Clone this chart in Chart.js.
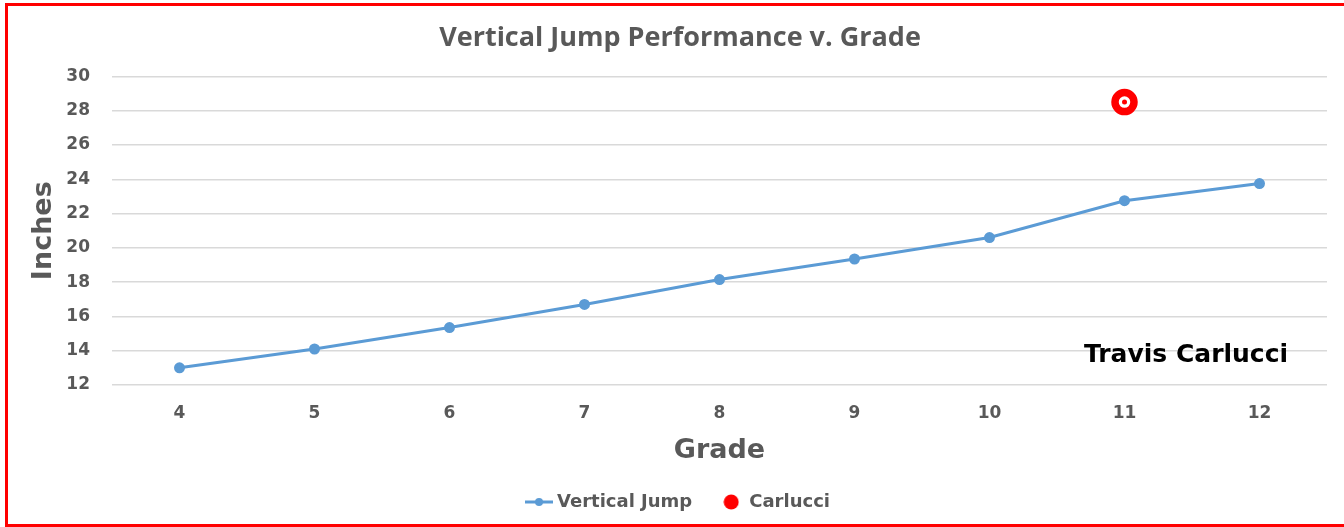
<!DOCTYPE html>
<html>
<head>
<meta charset="utf-8">
<script src="https://cdn.jsdelivr.net/npm/chart.js@4"></script>
<style>
  html, body { margin: 0; padding: 0; background: #fff; overflow: hidden; }
  #frame { position: absolute; left: 5px; top: 3px; width: 1350px; height: 518px; border: 3px solid #ff0000; }
  #wrap { position: absolute; left: 0; top: 0; width: 1344px; height: 527px; }
</style>
</head>
<body>
<div id="frame"></div>
<div id="wrap"><canvas id="jumpChart" width="1344" height="527"></canvas></div>
<script>
// Datos
const grades = ['4', '5', '6', '7', '8', '9', '10', '11', '12'];
const verticalJump = [13.0, 14.1, 15.35, 16.7, 18.15, 19.35, 20.6, 22.75, 23.75];
const carlucci = [null, null, null, null, null, null, null, 28.5, null];
const yTicks = [12, 14, 16, 18, 20, 22, 24, 26, 28, 30];

const grey = '#595959';
const blue = '#5b9bd5';
const red = '#ff0000';
const heavy = '"DejaVu Sans", Arial, sans-serif';

// icono de leyenda: línea con punto
function lineDotIcon() {
    const c = document.createElement('canvas');
    c.width = 28; c.height = 10;
    const g = c.getContext('2d');
    g.strokeStyle = blue; g.lineWidth = 3;
    g.beginPath(); g.moveTo(0, 5); g.lineTo(28, 5); g.stroke();
    g.fillStyle = blue;
    g.beginPath(); g.arc(14, 5, 4, 0, Math.PI * 2); g.fill();
    return c;
}
function dotIcon() {
    const c = document.createElement('canvas');
    c.width = 16; c.height = 16;
    const g = c.getContext('2d');
    g.fillStyle = red;
    g.beginPath(); g.arc(8, 8, 7.5, 0, Math.PI * 2); g.fill();
    return c;
}
const icons = [lineDotIcon(), dotIcon()];

// centro rojo del marcador de Carlucci y texto "Travis Carlucci"
const extras = {
    id: 'extras',
    afterDatasetsDraw(chart) {
        const ctx = chart.ctx;
        const meta = chart.getDatasetMeta(1);
        meta.data.forEach((pt, i) => {
            if (carlucci[i] == null) return;
            ctx.save();
            ctx.fillStyle = red;
            ctx.beginPath(); ctx.arc(pt.x, pt.y, 2.5, 0, Math.PI * 2); ctx.fill();
            ctx.restore();
        });
        const a = chart.chartArea;
        ctx.save();
        ctx.font = 'bold 25px ' + heavy;
        ctx.fillStyle = '#000';
        ctx.textAlign = 'center';
        ctx.textBaseline = 'middle';
        ctx.fillText('Travis Carlucci', a.right - 141, chart.scales.y.getPixelForValue(13.7));
        ctx.restore();
    }
};

const ctx = document.getElementById('jumpChart').getContext('2d');
new Chart(ctx, {
    type: 'line',
    data: {
        labels: grades,
        datasets: [{
            label: 'Vertical Jump',
            data: verticalJump,
            borderColor: blue,
            backgroundColor: blue,
            borderWidth: 3,
            pointRadius: 4,
            pointHoverRadius: 4,
            tension: 0
        }, {
            label: 'Carlucci',
            data: carlucci,
            showLine: false,
            borderColor: red,
            backgroundColor: '#fff',
            borderWidth: 7.5,
            pointRadius: 9.5,
            pointHoverRadius: 9.5
        }]
    },
    options: {
        responsive: false,
        animation: false,
        layout: { padding: { left: 28, right: 12, top: 6, bottom: 6 } },
        plugins: {
            title: {
                display: true,
                text: 'Vertical Jump Performance v. Grade',
                color: grey,
                font: { family: '"Open Sans", sans-serif', size: 27, weight: 'bold' },
                padding: { top: 16, bottom: 22 }
            },
            legend: {
                position: 'bottom',
                labels: {
                    usePointStyle: true,
                    color: grey,
                    font: { family: heavy, size: 18, weight: 'bold' },
                    padding: 30,
                    generateLabels(chart) {
                        return chart.data.datasets.map((d, i) => ({
                            text: d.label,
                            fontColor: grey,
                            pointStyle: icons[i],
                            datasetIndex: i,
                            lineWidth: 0,
                            hidden: false
                        }));
                    }
                }
            },
            tooltip: { enabled: false }
        },
        scales: {
            x: {
                offset: true,
                afterFit(scale) {
                    scale.height = 78;
                    scale.paddingLeft = 0;
                    scale.paddingRight = 0;
                },
                grid: { display: false },
                border: { display: false },
                ticks: {
                    color: grey,
                    padding: 10,
                    font: { family: heavy, size: 17, weight: 'bold' }
                },
                title: {
                    display: true,
                    text: 'Grade',
                    color: grey,
                    font: { family: heavy, size: 27, weight: 'bold' },
                    padding: { top: 10, bottom: -4 }
                }
            },
            y: {
                min: 12,
                max: 30,
                afterFit(scale) { scale.width = 84; },
                afterBuildTicks(scale) { scale.ticks = yTicks.map(v => ({ value: v })); },
                grid: { color: '#d9d9d9', lineWidth: 1.5, drawTicks: false },
                border: { display: false },
                ticks: {
                    color: grey,
                    padding: 22,
                    font: { family: heavy, size: 17, weight: 'bold' }
                },
                title: {
                    display: true,
                    text: 'Inches',
                    color: grey,
                    font: { family: heavy, size: 27, weight: 'bold' },
                    padding: { top: 0, bottom: 6 }
                }
            }
        }
    },
    plugins: [extras]
});
</script>
</body>
</html>
